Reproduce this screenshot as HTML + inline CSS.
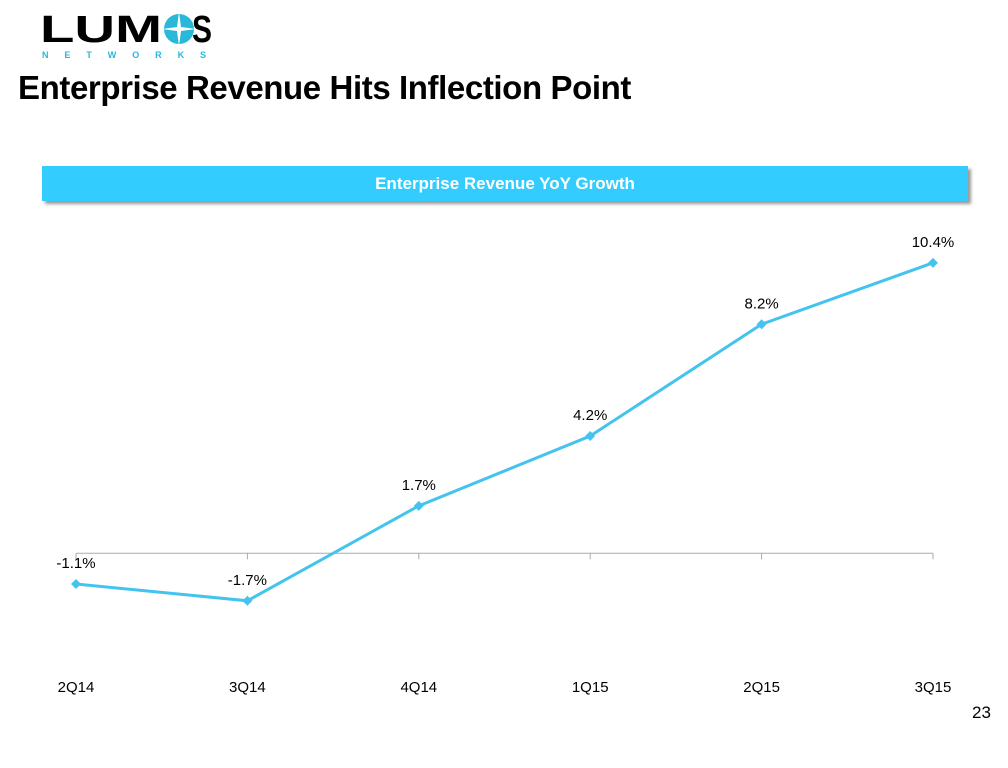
<!DOCTYPE html>
<html><head><meta charset="utf-8"><style>
body{margin:0;width:1008px;height:768px;background:#fff;position:relative;overflow:hidden;font-family:"Liberation Sans",sans-serif}
#logo{position:absolute;left:40px;top:8px;width:172px;height:54px}
#title{position:absolute;left:18px;top:69px;font-size:33px;font-weight:bold;color:#000;letter-spacing:-0.4px}
#banner{position:absolute;left:42px;top:166px;width:926px;height:35px;background:#33ccff;box-shadow:3px 3px 3px #999;color:#fff;font-weight:bold;font-size:17px;text-align:center;line-height:35px}
#pg{position:absolute;left:972px;top:703px;font-size:17px;color:#000}
svg{position:absolute;left:0;top:0}
</style></head><body>
<svg id="logo" viewBox="0 0 172 54">
<text x="0" y="34" font-size="38" font-weight="bold" fill="#000" font-family="Liberation Sans" textLength="122" lengthAdjust="spacingAndGlyphs">LUM</text>
<circle cx="139" cy="21" r="15" fill="#29b8d8"/>
<path d="M139 4 L141 19 L156 21 L141 23 L139 38 L137 23 L122 21 L137 19Z" fill="#fff"/>
<text x="152" y="34" font-size="38" font-weight="bold" fill="#000" font-family="Liberation Sans" textLength="20" lengthAdjust="spacingAndGlyphs">S</text>
<text x="2" y="50" font-size="9" font-weight="bold" fill="#29b8d8" font-family="Liberation Sans" textLength="164" lengthAdjust="spacing">NETWORKS</text>
</svg>
<div id="title">Enterprise Revenue Hits Inflection Point</div>
<div id="banner">Enterprise Revenue YoY Growth</div>
<svg id="chart" width="1008" height="768"></svg>
<div id="pg">23</div>
<script>
const categories=["2Q14","3Q14","4Q14","1Q15","2Q15","3Q15"];
const values=[-1.1,-1.7,1.7,4.2,8.2,10.4];
const labels=["-1.1%","-1.7%","1.7%","4.2%","8.2%","10.4%"];
const NS="http://www.w3.org/2000/svg";
const svg=document.getElementById("chart");
const x0=76,dx=171.4,zeroY=553.3,k=27.93;
const X=i=>x0+i*dx, Y=v=>zeroY-v*k;
function mk(t,a){const e=document.createElementNS(NS,t);for(const n in a)e.setAttribute(n,a[n]);svg.appendChild(e);return e;}
const ax=mk("line",{x1:X(0),x2:X(categories.length-1),y1:Y(0),y2:Y(0),stroke:"#aaa","stroke-width":1});


categories.forEach((c,i)=>{
 const t=mk("line",{x1:X(i),x2:X(i),y1:Y(0),y2:Y(0)+6,stroke:"#aaa"});
 
 
 const l=mk("text",{x:X(i),y:692,"text-anchor":"middle","font-size":"15",fill:"#000"});
 l.textContent=c;
 
 
});
const line=mk("polyline",{points:values.map((v,i)=>X(i)+","+Y(v)).join(" "),fill:"none",stroke:"#45c3ef","stroke-width":3});


values.forEach((v,i)=>{
 const x=X(i),y=Y(v);
 const p=mk("polygon",{points:`${x},${y-5} ${x+5},${y} ${x},${y+5} ${x-5},${y}`,fill:"#45c3ef"});
 
 
 const t=mk("text",{x:x,y:y-16,"text-anchor":"middle","font-size":"15",fill:"#000"});
 t.textContent=labels[i];
 
 
});
</script>
</body></html>
